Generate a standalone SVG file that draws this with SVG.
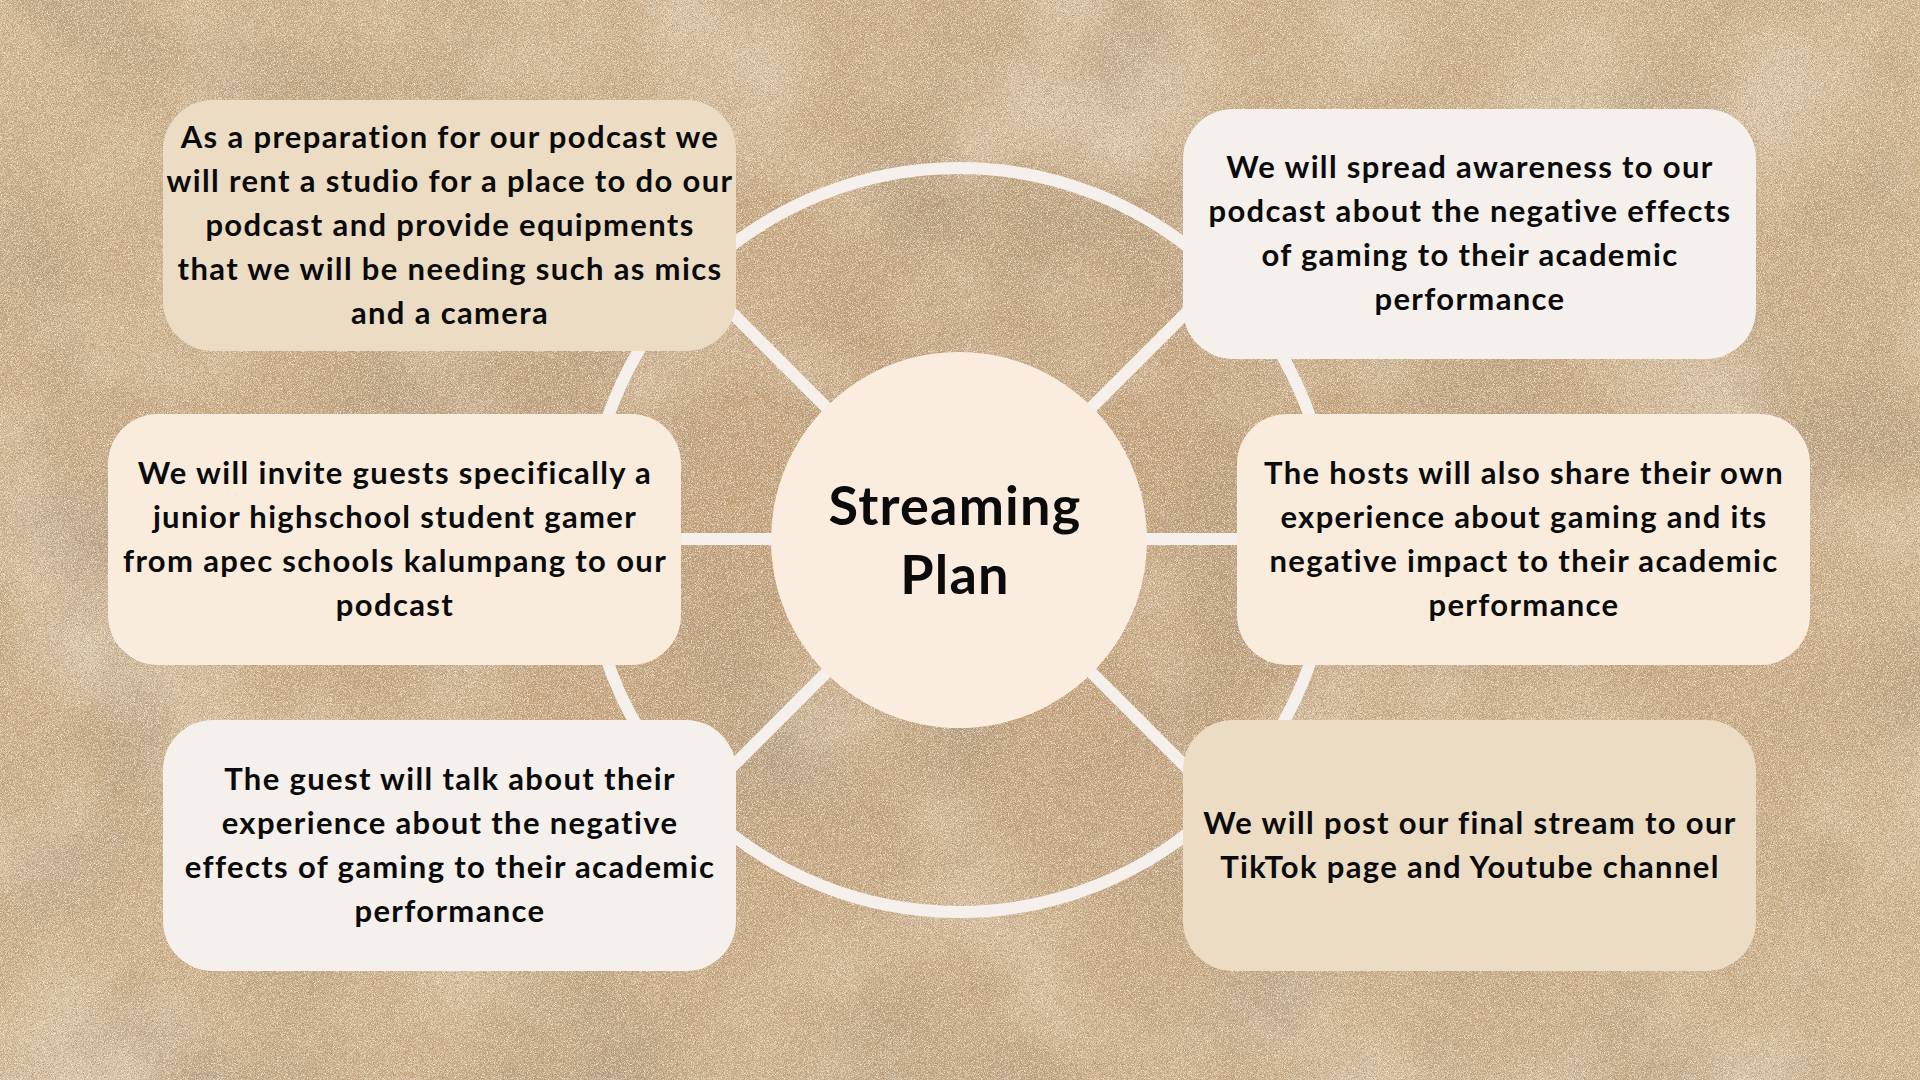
<svg xmlns="http://www.w3.org/2000/svg" width="1920" height="1080" viewBox="0 0 1920 1080">
<defs>
<radialGradient id="bg" cx="50%" cy="50%" r="75%">
<stop offset="0" stop-color="#c29d74"/>
<stop offset="0.6" stop-color="#cbab83"/>
<stop offset="1" stop-color="#d4b892"/>
</radialGradient>
<filter id="grain" x="0" y="0" width="100%" height="100%">
<feTurbulence type="fractalNoise" baseFrequency="1.1" numOctaves="2" seed="3"/>
<feColorMatrix type="matrix" values="0 0 0 0 0.38  0 0 0 0 0.27  0 0 0 0 0.16  0 0 0 2.2 -0.95"/>
</filter>
<filter id="grainL" x="0" y="0" width="100%" height="100%">
<feTurbulence type="fractalNoise" baseFrequency="1.3" numOctaves="2" seed="11"/>
<feColorMatrix type="matrix" values="0 0 0 0 0.93  0 0 0 0 0.86  0 0 0 0 0.74  0 0 0 2.2 -0.95"/>
</filter>
<filter id="blot" x="0" y="0" width="100%" height="100%">
<feTurbulence type="fractalNoise" baseFrequency="0.006" numOctaves="4" seed="7"/>
<feColorMatrix type="matrix" values="0 0 0 0 0.45  0 0 0 0 0.32  0 0 0 0 0.2  0 0 0 1.8 -0.8"/>
</filter>
<filter id="blotL" x="0" y="0" width="100%" height="100%">
<feTurbulence type="fractalNoise" baseFrequency="0.005" numOctaves="3" seed="21"/>
<feColorMatrix type="matrix" values="0 0 0 0 0.88  0 0 0 0 0.78  0 0 0 0 0.64  0 0 0 1.4 -0.65"/>
</filter>
<style>
.ln{stroke:#f5f0eb;stroke-width:12;fill:none}
.t{font-family:Lato,"Liberation Sans",sans-serif;font-weight:700;font-size:31px;letter-spacing:1.35px;fill:#0b0b0b;text-anchor:middle}
.title{font-family:Lato,"Liberation Sans",sans-serif;font-weight:700;font-size:54px;letter-spacing:1.2px;fill:#0b0b0b;text-anchor:middle}
.tan{fill:#ecdcc4}
.off{fill:#f5f0eb}
.cream{fill:#f9ecdd}
</style>
</defs>
<rect width="1920" height="1080" fill="url(#bg)"/>
<rect width="1920" height="1080" filter="url(#blotL)"/>
<rect width="1920" height="1080" filter="url(#blot)"/>
<rect width="1920" height="1080" filter="url(#grain)"/>
<rect width="1920" height="1080" filter="url(#grainL)"/>

<g id="connectors">
<circle class="ln" cx="959" cy="540" r="372"/>
<line class="ln" x1="959" y1="540" x2="680" y2="261"/>
<line class="ln" x1="959" y1="540" x2="1238" y2="261"/>
<line class="ln" x1="959" y1="540" x2="680" y2="819"/>
<line class="ln" x1="959" y1="540" x2="1238" y2="819"/>
<line class="ln" x1="600" y1="539" x2="1320" y2="539"/>
</g>

<g id="center">
<circle cx="959" cy="540" r="188" fill="#faeddf"/>
<text class="title" x="955" y="525">Streaming</text>
<text class="title" x="955" y="594">Plan</text>
</g>

<g id="box1">
<rect class="tan" x="163" y="100" width="573" height="251" rx="50"/>
<text class="t" x="450" y="148">As a preparation for our podcast we</text>
<text class="t" x="450" y="192">will rent a studio for a place to do our</text>
<text class="t" x="450" y="236">podcast and provide equipments</text>
<text class="t" x="450" y="280">that we will be needing such as mics</text>
<text class="t" x="450" y="324">and a camera</text>
</g>

<g id="box2">
<rect class="off" x="1183" y="109" width="573" height="250" rx="50"/>
<text class="t" x="1470" y="178">We will spread awareness to our</text>
<text class="t" x="1470" y="222">podcast about the negative effects</text>
<text class="t" x="1470" y="266">of gaming to their academic</text>
<text class="t" x="1470" y="310">performance</text>
</g>

<g id="box3">
<rect class="cream" x="108" y="414" width="573" height="251" rx="50"/>
<text class="t" x="395" y="484">We will invite guests specifically a</text>
<text class="t" x="395" y="528">junior highschool student gamer</text>
<text class="t" x="395" y="572">from apec schools kalumpang to our</text>
<text class="t" x="395" y="616">podcast</text>
</g>

<g id="box4">
<rect class="cream" x="1237" y="414" width="573" height="251" rx="50"/>
<text class="t" x="1524" y="484">The hosts will also share their own</text>
<text class="t" x="1524" y="528">experience about gaming and its</text>
<text class="t" x="1524" y="572">negative impact to their academic</text>
<text class="t" x="1524" y="616">performance</text>
</g>

<g id="box5">
<rect class="off" x="163" y="720" width="573" height="251" rx="50"/>
<text class="t" x="450" y="790">The guest will talk about their</text>
<text class="t" x="450" y="834">experience about the negative</text>
<text class="t" x="450" y="878">effects of gaming to their academic</text>
<text class="t" x="450" y="922">performance</text>
</g>

<g id="box6">
<rect class="tan" x="1183" y="720" width="573" height="251" rx="50"/>
<text class="t" x="1470" y="834">We will post our final stream to our</text>
<text class="t" x="1470" y="878">TikTok page and Youtube channel</text>
</g>
</svg>
